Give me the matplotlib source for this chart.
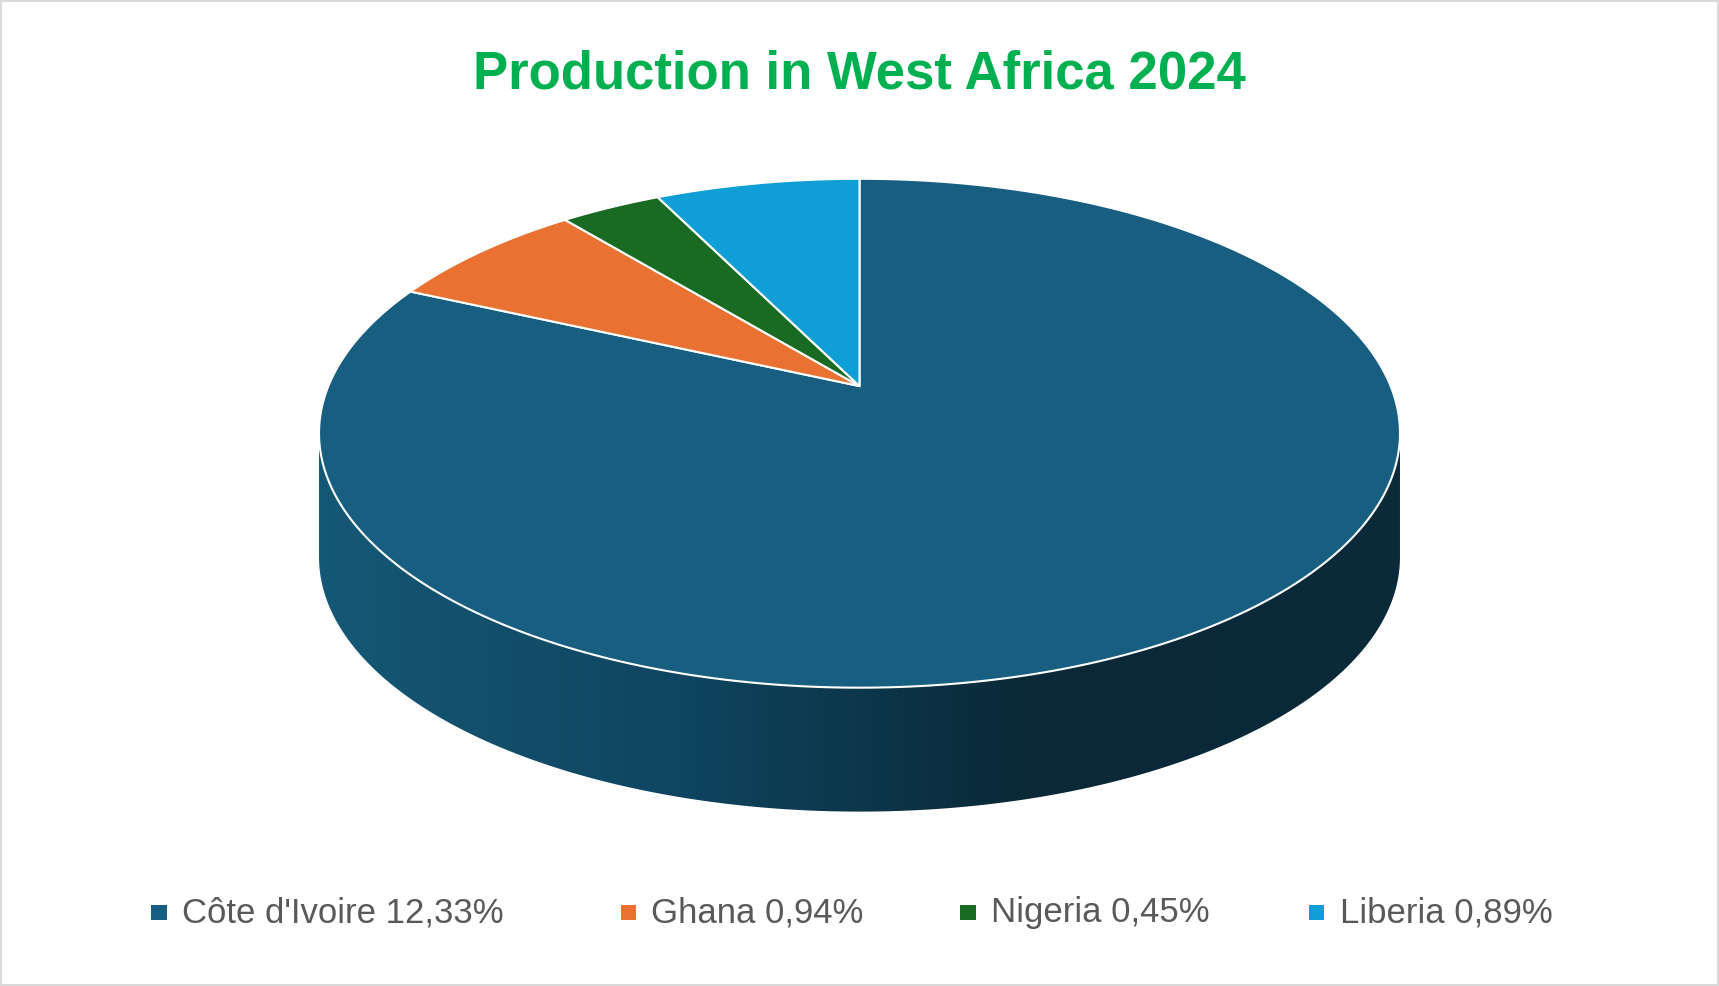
import numpy as np
import matplotlib
matplotlib.use("Agg")
import matplotlib.pyplot as plt
from matplotlib.patches import Polygon, Rectangle

countries = ["Côte d'Ivoire", "Ghana", "Nigeria", "Liberia"]
values = [12.33, 0.94, 0.45, 0.89]
labels = ["Côte d'Ivoire 12,33%", "Ghana 0,94%", "Nigeria 0,45%", "Liberia 0,89%"]
colors = ["#175e80", "#e97132", "#196b24", "#0f9ed5"]

W, H = 1568, 899
fig = plt.figure(figsize=(17.19, 9.86), dpi=100)
ax = fig.add_axes([0, 0, 1, 1])
ax.set_xlim(0, W); ax.set_ylim(H, 0); ax.axis("off")
ax.add_patch(Rectangle((1, 1), W - 2, H - 2, fill=False, ec="#d9d9d9", lw=1.5))

cx, cy, rx, ry, depth = 784, 395, 493, 232, 113
apex = (784, 352)

def pt(a):
    return cx + rx * np.cos(a), cy - ry * np.sin(a)

# side (front half)
t = np.linspace(np.pi, 2 * np.pi, 200)
xs = cx + rx * np.cos(t); ys = cy - ry * np.sin(t)
side = np.concatenate([np.c_[xs, ys], np.c_[xs[::-1], ys[::-1] + depth]])
sp = Polygon(side, closed=True, fc="none", ec="none")
ax.add_patch(sp)
grad = np.linspace(0, 1, 256)[None, :]
from matplotlib.colors import LinearSegmentedColormap
cm = LinearSegmentedColormap.from_list("g", ["#155875", "#0f4560", "#0a2836", "#0b2a3a"])
im = ax.imshow(grad, cmap=cm, extent=(cx - rx, cx + rx, cy + ry + depth, cy), aspect="auto", zorder=1)
im.set_clip_path(sp)
ax.plot(xs, ys + depth, color="none")

# top
fr = np.array(values) / sum(values)
start = np.pi / 2
for f, c in zip(fr, colors):
    end = start - f * 2 * np.pi
    a = np.linspace(start, end, max(int(f * 400), 5))
    p = np.c_[cx + rx * np.cos(a), cy - ry * np.sin(a)]
    poly = np.vstack([[apex], p])
    ax.add_patch(Polygon(poly, closed=True, fc=c, ec="white", lw=1.5, zorder=2))
    start = end
ax.set_xlim(0, W); ax.set_ylim(H, 0)

ax.text(W / 2, 68, "Production in West Africa 2024", ha="center", va="center",
        fontsize=38, fontweight="bold", color="#00b050", family="Liberation Sans")

lx = [138, 566, 876, 1194]
for x, l, c in zip(lx, labels, colors):
    ax.add_patch(Rectangle((x, 825), 14, 14, fc=c, ec="none"))
    ax.text(x + 28, 832, l, va="center", ha="left", fontsize=25, color="#595959",
            family="Liberation Sans")

fig.savefig("out.png", dpi=100)
